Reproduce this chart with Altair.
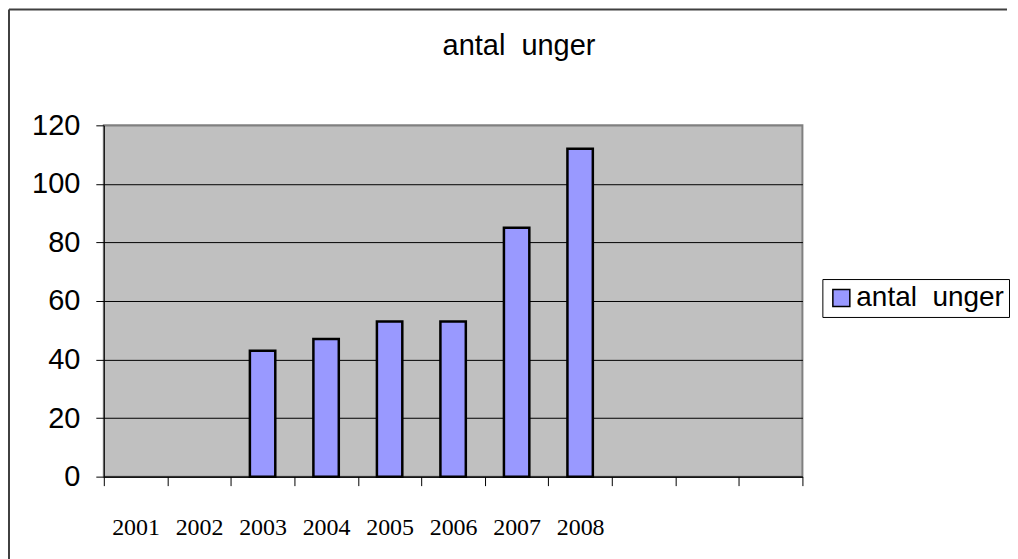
import altair as alt
import pandas as pd

# ---- data ----
categories = ["2001", "2002", "2003", "2004", "2005", "2006", "2007", "2008", "", " ", "  "]
years = ["2003", "2004", "2005", "2006", "2007", "2008"]
values = [43, 47, 53, 53, 85, 112]
series_name = "antal\u00a0 unger"
y_ticks = [0, 20, 40, 60, 80, 100, 120]

df = pd.DataFrame({"year": years, "value": values, "series": [series_name] * len(years)})
one = pd.DataFrame({"k": [0]})

SANS = "Liberation Sans"
SERIF = "Liberation Serif"

bars = alt.Chart(df).mark_bar(
    width=alt.RelativeBandSize(0.4), stroke="black", strokeWidth=2.5
).encode(
    x=alt.X(
        "year:N",
        scale=alt.Scale(domain=categories, paddingInner=0, paddingOuter=0),
        sort=categories,
        axis=alt.Axis(
            title=None, labelAngle=0, tickBand="extent", labelFont=SERIF,
            labelFontSize=24, labelColor="black", labelPadding=30,
            tickSize=9, tickColor="black", domainColor="black", grid=False,
        ),
    ),
    y=alt.Y(
        "value:Q",
        scale=alt.Scale(domain=[0, 120], nice=False),
        axis=alt.Axis(
            title=None, values=y_ticks, labelFont=SANS, labelFontSize=29,
            labelColor="black", labelPadding=16, tickSize=8, tickColor="black",
            domainColor="black", grid=True,
            gridColor=alt.condition("datum.value === 120", alt.value("#808080"), alt.value("black")),
            gridWidth=1,
        ),
    ),
    color=alt.Color(
        "series:N",
        scale=alt.Scale(range=["#9999FF"]),
        legend=alt.Legend(
            title=None, orient="none", legendX=720, legendY=154,
            strokeColor="black", fillColor="white", padding=5,
            symbolType="square", symbolSize=289, symbolStrokeColor="black",
            symbolStrokeWidth=1.5, symbolOffset=0, labelFont=SANS,
            labelFontSize=28, labelColor="black", labelOffset=1,
        ),
    ),
)

border_left = alt.Chart(one).mark_rule(color="#404040", strokeWidth=2).encode(
    x=alt.value(-95), y=alt.value(-116), y2=alt.value(460)
)
border_top = alt.Chart(one).mark_rule(color="#404040", strokeWidth=2).encode(
    x=alt.value(-95), x2=alt.value(905), y=alt.value(-116)
)

chart = alt.layer(bars, border_left, border_top).properties(
    width=700,
    height=352,
    padding=0,
    title=alt.TitleParams(
        "antal\u00a0 unger", fontSize=29, font=SANS, fontWeight="normal",
        color="black", anchor="middle", dx=66, offset=-76, baseline="alphabetic",
    ),
    background="white",
).configure_view(
    fill="#C0C0C0", stroke="#808080", strokeWidth=2
)

chart.save("out.html", embed_options={"renderer": "svg", "actions": False})
